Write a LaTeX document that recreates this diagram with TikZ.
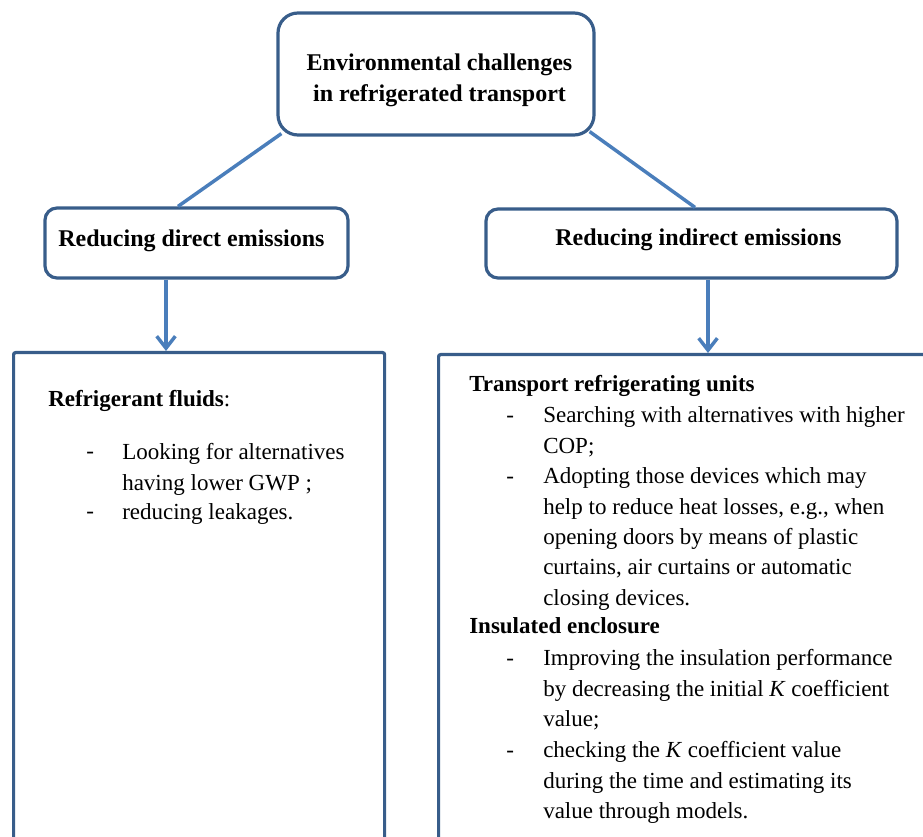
\documentclass[tikz,border=0pt]{standalone}
\usepackage{fontspec}
\setmainfont{Liberation Serif}
\usetikzlibrary{arrows.meta}
\definecolor{boxblue}{RGB}{56,93,138}
\definecolor{linkblue}{RGB}{74,126,187}
\tikzset{
	roundbox/.style={draw=boxblue,line width=2.4pt,rounded corners=#1,inner sep=0pt},
	roundbox/.default=9pt,
	bigbox/.style={draw=boxblue,line width=2.4pt,rounded corners=1.5pt,inner sep=0pt,anchor=north west},
	link/.style={draw=linkblue,line width=2.6pt},
	tip/.style={-{Straight Barb[length=9pt,width=14pt]}},
	txt/.style={inner sep=0pt,font=\fontsize{17.25}{22.75}\selectfont,align=left},
	headtxt/.style={inner sep=0pt,font=\fontsize{18}{22.75}\selectfont\bfseries},
}
\begin{document}
\begin{tikzpicture}[x=0.75pt,y=0.75pt,yscale=-1,xscale=1]
			\useasboundingbox (0,0) rectangle (923,837);
			\clip (0,0) rectangle (923,837);
			
			%Rounded Rect [challenge] 
			\node [roundbox=15pt,minimum width=237pt,minimum height=91.5pt] (challenge) at (436,74) {};
			%Rounded Rect [direct] 
			\node [roundbox,minimum width=227.25pt,minimum height=52.5pt] (direct) at (196.5,243) {};
			%Rounded Rect [indirect] 
			\node [roundbox,minimum width=308.25pt,minimum height=51.75pt] (indirect) at (691.5,243.5) {};
			%Shape: Rectangle [leftbig] 
			\node [bigbox,minimum width=278.25pt,minimum height=400pt] (leftbig) at (12,351) {};
			%Shape: Rectangle [rightbig] 
			\node [bigbox,minimum width=420pt,minimum height=400pt] (rightbig) at (437,353) {};
			
			%Straight Lines 
			\draw [link] ([shift={(5,-3)}]challenge.south west) -- ([shift={(-18.5,0)}]direct.north) ;
			\draw [link] ([shift={(-6,-5)}]challenge.south east) -- ([shift={(3.5,0)}]indirect.north) ;
			\draw [link,tip] ([shift={(-30.5,0)}]direct.south) -- ([shift={(-30.5,0)}]direct.south |- leftbig.north) ;
			\draw [link,tip] ([shift={(16.5,0)}]indirect.south) -- ([shift={(16.5,0)}]indirect.south |- rightbig.north) ;
			
			% Text Node
			\node [headtxt,align=center,anchor=north] (challengetext) at (439.5,54) {Environmental challenges\\in refrigerated transport};
			% Text Node
			\node [headtxt,anchor=base west] (directtext) at (58,246.5) {Reducing direct emissions};
			% Text Node
			\node [headtxt,anchor=base west] (indirecttext) at (555,246) {Reducing indirect emissions};
			
			% Text Node
			\node [txt,anchor=base west] (fluids) at (48,406.5) {\textbf{Refrigerant fluids}:};
			\node [txt,anchor=base west] (dasha) at (86,458) {-};
			\node [txt,anchor=north west] (lowgwp) at (122,443.5) {Looking for alternatives\\having lower GWP ;};
			\node [txt,anchor=base west] (dashb) at (86,518) {-};
			\node [txt,anchor=north west] (leakages) at (122,503.5) {reducing leakages.};
			
			% Text Node
			\node [txt,anchor=base west] (units) at (469,391) {\textbf{Transport refrigerating units}};
			\node [txt,anchor=base west] (dashc) at (506,422) {-};
			\node [txt,anchor=north west] (higcop) at (543,406.5) {Searching with alternatives with higher\\COP;};
			\node [txt,anchor=base west] (dashd) at (506,483) {-};
			\node [txt,anchor=north west] (heatloss) at (543,467.5) {Adopting those devices which may\\help to reduce heat losses, e.g., when\\opening doors by means of plastic\\curtains, air curtains or automatic\\closing devices.};
			
			% Text Node
			\node [txt,anchor=base west] (enclosure) at (469,633) {\textbf{Insulated enclosure}};
			\node [txt,anchor=base west] (dashe) at (506,665) {-};
			\node [txt,anchor=north west] (initialk) at (543,649.5) {Improving the insulation performance\\by decreasing the initial \textit{K} coefficient\\value;};
			\node [txt,anchor=base west] (dashf) at (506,757) {-};
			\node [txt,anchor=north west] (checkk) at (543,741.5) {checking the \textit{K} coefficient value\\during the time and estimating its\\value through models.};
			
		\end{tikzpicture}
\end{document}
